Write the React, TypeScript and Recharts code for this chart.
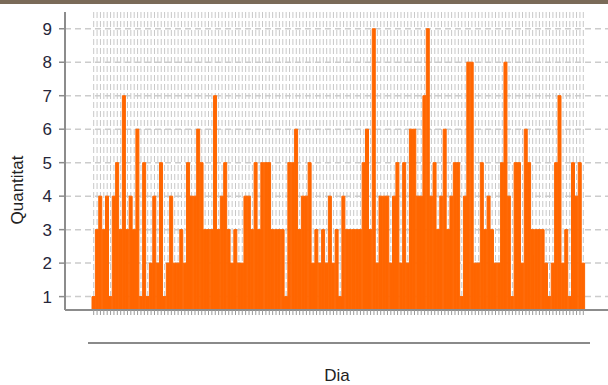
import React from "react";
import { BarChart, Bar, XAxis, YAxis, CartesianGrid } from "recharts";

// Daily quantities, left to right
const quantitat: number[] = [
  1, 3, 4, 3, 4, 1, 4, 5, 3, 7, 3, 4, 3, 6, 1, 5, 1, 2, 4, 2,
  5, 1, 2, 4, 2, 2, 3, 2, 5, 4, 4, 6, 5, 3, 3, 3, 7, 3, 4,
  5, 3, 2, 3, 2, 2, 4, 4, 3, 5, 3, 5, 5, 5, 3, 3, 3, 3, 1, 5,
  5, 6, 3, 4, 4, 5, 2, 3, 2, 3, 2, 4, 2, 3, 1, 4, 3, 3, 3, 3, 3, 5,
  6, 3, 9, 2, 4, 4, 4, 2, 4, 5, 2, 5, 2, 6, 6, 4, 4, 7, 9, 4,
  5, 3, 4, 6, 3, 4, 5, 5, 1, 4, 8, 8, 2, 2,
  5, 3, 4, 3, 2, 2, 5, 8, 4, 1, 5, 5, 2, 6, 5, 3, 3, 3, 3, 2,
  1, 2, 5, 7, 2, 3, 1, 5, 4, 5, 2,
];

const dies: string[] = quantitat.map((_, i) => `${i + 1}`);
const yTicks: number[] = [1, 2, 3, 4, 5, 6, 7, 8, 9];

const data = dies.map((d, i) => ({ dia: d, quantitat: quantitat[i] }));

const FONT = "'Liberation Sans', Arial, sans-serif";

const EmptyTick = () => <g />;

export default function App() {
  return (
    <div
      style={{
        position: "absolute",
        left: 0,
        top: 0,
        width: 608,
        height: 385,
        background: "#ffffff",
        overflow: "hidden",
        fontFamily: FONT,
      }}
    >
      <div
        style={{
          position: "absolute",
          left: 0,
          top: 0,
          width: 608,
          height: 4,
          background: "#7a6a58",
        }}
      />
      <BarChart
        width={608}
        height={385}
        data={data}
        margin={{ top: 12, right: 0, left: 0, bottom: 45 }}
        barCategoryGap={0}
        barGap={0}
      >
        <CartesianGrid
          horizontal={false}
          vertical={true}
          syncWithTicks={true}
          stroke="#c8c8c8"
          strokeWidth={1}
          strokeDasharray="6 3"
        />
        <CartesianGrid
          horizontal={true}
          vertical={false}
          syncWithTicks={true}
          stroke="#cccccc"
          strokeWidth={1.5}
          strokeDasharray="6 4"
        />
        <XAxis
          dataKey="dia"
          interval={0}
          padding={{ left: 27, right: 23 }}
          tick={EmptyTick}
          tickLine={{ stroke: "#9a9a9a", strokeWidth: 1 }}
          tickSize={5}
          axisLine={{ stroke: "#8c8c8c", strokeWidth: 2 }}
          height={30}
        />
        <YAxis
          type="number"
          domain={[0.6, 9.5]}
          ticks={yTicks}
          allowDataOverflow={true}
          width={65}
          tickSize={6}
          tickMargin={7}
          tick={{ fill: "#26263a", fontSize: 17, fontFamily: FONT }}
          tickLine={{ stroke: "#8c8c8c", strokeWidth: 1.5 }}
          axisLine={{ stroke: "#8c8c8c", strokeWidth: 2 }}
        />
        <Bar
          dataKey="quantitat"
          fill="#ff6600"
          stroke="#ff6600"
          strokeWidth={1}
          isAnimationActive={false}
        />
      </BarChart>
      <div
        style={{
          position: "absolute",
          left: 88,
          top: 342,
          width: 502,
          height: 2,
          background: "#8a8a8a",
        }}
      />
      <div
        style={{
          position: "absolute",
          left: 287,
          top: 366,
          width: 100,
          textAlign: "center",
          fontSize: 17,
          color: "#222222",
          lineHeight: "20px",
        }}
      >
        Dia
      </div>
      <div
        style={{
          position: "absolute",
          left: 18,
          top: 190,
          transform: "translate(-50%, -50%) rotate(-90deg)",
          fontSize: 17,
          color: "#222222",
          whiteSpace: "nowrap",
          lineHeight: "20px",
        }}
      >
        Quantitat
      </div>
    </div>
  );
}
